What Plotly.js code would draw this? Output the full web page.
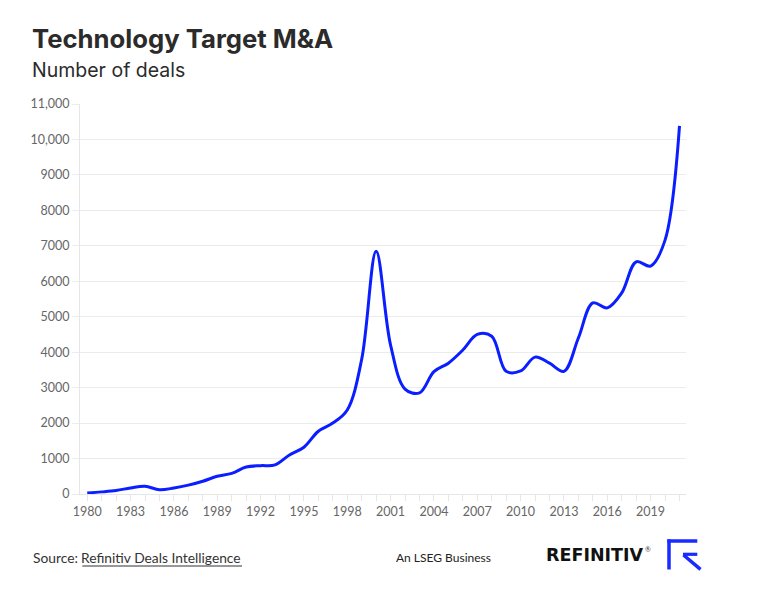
<!DOCTYPE html>
<html>
<head>
<meta charset="utf-8">
<script src="https://cdn.plot.ly/plotly-3.0.1.min.js"></script>
<style>
html,body{margin:0;padding:0;background:#fff;}
#chart{width:758px;height:607px;}
</style>
</head>
<body>
<div id="chart"></div>
<script>
const years = [1980,1981,1982,1983,1984,1985,1986,1987,1988,1989,1990,1991,1992,1993,1994,1995,1996,1997,1998,1999,2000,2001,2002,2003,2004,2005,2006,2007,2008,2009,2010,2011,2012,2013,2014,2015,2016,2017,2018,2019,2020,2021];
const deals = [30,60,100,170,220,120,170,250,360,500,580,760,800,820,1100,1320,1770,2000,2370,3800,6850,4200,2960,2850,3450,3690,4060,4500,4450,3460,3470,3860,3690,3460,4400,5390,5250,5670,6550,6430,7160,10380];
const yTickVals = [0,1000,2000,3000,4000,5000,6000,7000,8000,9000,10000,11000];
const yTickText = ["0","1000","2000","3000","4000","5000","6000","7000","8000","9000","10,000","11,000"];
const xLabelYears = [1980,1983,1986,1989,1992,1995,1998,2001,2004,2007,2010,2013,2016,2019];

const W = 758, H = 607;
const L = 80, R = 686, T = 104, B = 494;
const px = x => (x - L) / (R - L);
const py = y => (B - y) / (B - T);

const xTickVals = years.slice();
const xTickText = years.map(y => xLabelYears.includes(y) ? String(y) : "");

const trace = {
  x: years, y: deals, type: 'scatter', mode: 'lines',
  line: {color: '#0a1eff', width: 3, shape: 'spline', smoothing: 1},
  hoverinfo: 'skip'
};

const font = 'Lato, "Open Sans", sans-serif';
const tfont = 'Inter, Lato, sans-serif';
const blue = '#1a2bff';

const annotations = [
  {text: '<b>Technology Target M&A</b>', x: px(30), y: py(39), xref: 'paper', yref: 'paper', xanchor: 'left', yanchor: 'middle', showarrow: false, font: {family: tfont, size: 25.7, color: '#2b2b2b'}},
  {text: 'Number of deals', x: px(30), y: py(70), xref: 'paper', yref: 'paper', xanchor: 'left', yanchor: 'middle', showarrow: false, font: {family: tfont, size: 19.5, color: '#2b2b2b'}},
  {text: 'Source:', x: px(31), y: py(557), xref: 'paper', yref: 'paper', xanchor: 'left', yanchor: 'middle', showarrow: false, font: {family: font, size: 13.8, color: '#333'}},
  {text: 'Refinitiv Deals Intelligence', x: px(79), y: py(557), xref: 'paper', yref: 'paper', xanchor: 'left', yanchor: 'middle', showarrow: false, font: {family: font, size: 13.8, color: '#333'}},
  {text: 'An LSEG Business', x: px(394), y: py(557), xref: 'paper', yref: 'paper', xanchor: 'left', yanchor: 'middle', showarrow: false, font: {family: font, size: 12, color: '#222'}},
  {text: '<b>REFINITIV</b>', x: px(544), y: py(555), xref: 'paper', yref: 'paper', xanchor: 'left', yanchor: 'middle', showarrow: false, font: {family: 'DejaVu Sans', size: 17.5, color: '#111'}},
  {text: '®', x: px(643), y: py(549), xref: 'paper', yref: 'paper', xanchor: 'left', yanchor: 'middle', showarrow: false, font: {family: font, size: 7, color: '#444'}}
];

const shapes = [
  {type: 'line', xref: 'paper', yref: 'paper', x0: px(82.3), x1: px(242), y0: py(566), y1: py(566), line: {color: '#333', width: 1.2}},
  {type: 'line', xref: 'paper', yref: 'paper', x0: px(669), x1: px(669), y0: py(539.3), y1: py(569.5), line: {color: blue, width: 3.5}},
  {type: 'line', xref: 'paper', yref: 'paper', x0: px(667.3), x1: px(697.3), y0: py(541), y1: py(541), line: {color: blue, width: 3.5}},
  {type: 'line', xref: 'paper', yref: 'paper', x0: px(683), x1: px(697.3), y0: py(554.3), y1: py(554.3), line: {color: blue, width: 3.2}},
  {type: 'line', xref: 'paper', yref: 'paper', x0: px(683.5), x1: px(700.5), y0: py(555), y1: py(569.3), line: {color: blue, width: 3.5}}
];

const layout = {
  width: W, height: H,
  margin: {l: L, r: W - R, t: T, b: H - B},
  paper_bgcolor: '#fff', plot_bgcolor: '#fff',
  showlegend: false,
  xaxis: {
    range: [1979.5, 2021.45], tickmode: 'array', tickvals: xTickVals, ticktext: xTickText,
    showgrid: false, zeroline: false, showline: true, linecolor: '#e6e6e6', linewidth: 1,
    ticks: 'outside', ticklen: 6, tickcolor: '#e6e6e6', tickwidth: 1,
    tickfont: {family: font, size: 12.5, color: '#666'}, fixedrange: true
  },
  yaxis: {
    range: [0, 11000], tickmode: 'array', tickvals: yTickVals, ticktext: yTickText,
    showgrid: true, gridcolor: '#ececec', gridwidth: 1, zeroline: false,
    showline: true, linecolor: '#e6e6e6', linewidth: 1,
    ticks: 'outside', ticklen: 7, tickcolor: '#ececec',
    tickfont: {family: font, size: 12.5, color: '#666'}, fixedrange: true
  },
  annotations: annotations,
  shapes: shapes
};

Plotly.newPlot('chart', [trace], layout, {staticPlot: true, displayModeBar: false});
</script>
</body>
</html>
